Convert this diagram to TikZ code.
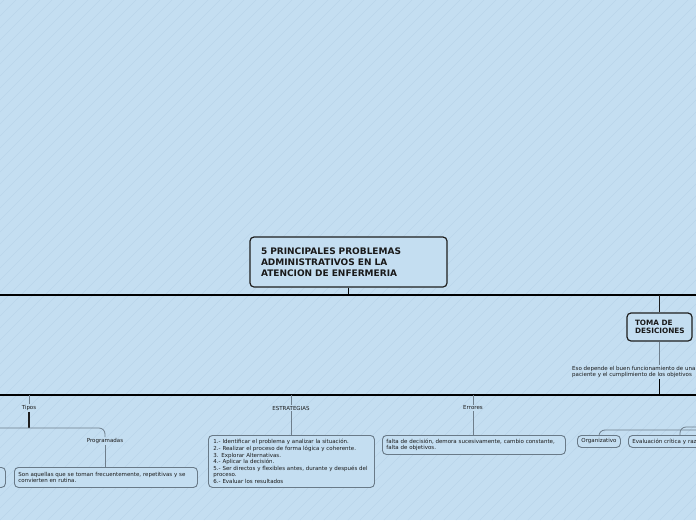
\documentclass[tikz,border=0pt]{standalone}
\usepackage{fontspec}
\setmainfont{DejaVu Sans}
\definecolor{bg}{RGB}{196,222,241}
\definecolor{stripe}{RGB}{186,213,234}
\definecolor{dark}{RGB}{30,30,30}
\definecolor{boxgray}{RGB}{105,122,136}
\definecolor{linegray}{RGB}{110,126,140}
\definecolor{txt}{RGB}{25,25,25}
\begin{document}
\begin{tikzpicture}[x=1pt,y=-1pt,
  bigbox/.style={draw=dark, line width=1.2pt, rounded corners=4pt, fill=bg, text=txt,
    font=\bfseries\fontsize{9}{11}\selectfont, align=left, inner ysep=0pt},
  child/.style={draw=boxgray, line width=0.9pt, rounded corners=4pt, fill=bg, text=txt,
    font=\fontsize{5.5}{6.6}\selectfont, align=left, inner ysep=0pt, anchor=north west},
  lbl/.style={font=\fontsize{5.5}{6.6}\selectfont, text=txt, inner sep=1pt},
  bus/.style={line width=1.2pt, draw=black},
  thinline/.style={line width=0.8pt, draw=linegray},
  darkline/.style={line width=1.1pt, draw=dark}]
\clip (0,0) rectangle (696,520);
\useasboundingbox (0,0) rectangle (696,520);
\fill[bg] (0,0) rectangle (696,520);
\foreach \i in {-540,-528,...,708} \draw[stripe, line width=0.4pt] (\i,520) -- (\i+520,0);

% main title
\node[bigbox, text width=175pt, inner xsep=11pt, minimum height=50pt] (main) at (348.5,262)
  {5 PRINCIPALES PROBLEMAS\\ADMINISTRATIVOS EN LA\\ATENCION DE ENFERMERIA};
\coordinate (b1L) at (0,295);
\coordinate (b1R) at (696,295);
\draw[bus] (b1L) -- (b1R);
\draw[bus] (main.south) -- (main.south |- b1L);

% toma de desiciones
\node[bigbox, font=\bfseries\fontsize{7.3}{8.4}\selectfont, text width=49pt, inner xsep=8pt, minimum height=28pt] (toma) at (659.5,327)
  {TOMA DE\\DESICIONES};
\draw[darkline] (toma.north |- b1L) -- (toma.north);
\node[lbl, anchor=north west, align=left] (desc) at (571,365)
  {Eso depende el buen funcionamiento de una\\paciente y el cumplimiento de los objetivos};
\draw[thinline] (toma.south) -- (toma.south |- desc.north);
\coordinate (b2L) at (0,395);
\coordinate (b2R) at (696,395);
\draw[bus] (b2L) -- (b2R);
\draw[bus] (toma.south |- desc.south) -- (toma.south |- b2L);

% Tipos
\node[lbl] (tipos) at (29,408) {Tipos};
\draw[thinline] (tipos.north |- b2L) -- (tipos.north);
\coordinate (tj) at (29,428);
\coordinate (tL) at (0,428);
\draw[darkline] (tipos.south) -- (tj);
\node[lbl] (prog) at (105,441) {Programadas};
\draw[thinline, rounded corners=6pt] (tL) -- (prog.north |- tj) -- (prog.north);
\node[child, text width=175pt, inner xsep=4pt, minimum height=20pt] (son) at (14,467)
  {Son aquellas que se toman frecuentemente, repetitivas y se\\convierten en rutina.};
\draw[thinline] (prog.south) -- (prog.south |- son.north);
\node[child, minimum width=25pt, minimum height=20pt] (lbox) at (-20,467) {};

% Estrategias
\node[lbl] (estr) at (291,408) {ESTRATEGIAS};
\draw[thinline] (estr.north |- b2L) -- (estr.north);
\node[child, text width=156pt, inner xsep=5pt, minimum height=52pt] (ebox) at (208,435)
  {1.- Identificar el problema y analizar la situación.\\
   2.- Realizar el proceso de forma lógica y coherente.\\
   3. Explorar Alternativas.\\
   4.- Aplicar la decisión.\\
   5.- Ser directos y flexibles antes, durante y después del\\
   proceso.\\
   6.- Evaluar los resultados};
\draw[thinline] (estr.south) -- (ebox.north -| estr.south);

% Errores
\node[lbl] (err) at (473,408) {Errores};
\draw[thinline] (err.north |- b2L) -- (err.north);
\node[child, text width=175pt, inner xsep=4pt, minimum height=19pt] (errbox) at (382,435)
  {falta de decisión, demora sucesivamente, cambio constante,\\falta de objetivos.};
\draw[thinline] (err.south) -- (errbox.north -| err.south);

% Organizativo etc.
\node[child, text width=37pt, inner xsep=3pt, minimum height=12pt, align=center] (org) at (577,435) {Organizativo};
\node[child, text width=110pt, inner xsep=4pt, minimum height=12pt] (eval) at (628,435) {Evaluación crítica y razonamiento};
\coordinate (oR) at (700,430);
\coordinate (eR) at (700,427);
\draw[thinline, rounded corners=6pt] (org.north) -- (org.north |- oR) -- (oR);
\draw[thinline, rounded corners=6pt] ([xshift=52pt]eval.north west) -- ([xshift=52pt]eval.north west |- eR) -- (eR);
\end{tikzpicture}
\end{document}
